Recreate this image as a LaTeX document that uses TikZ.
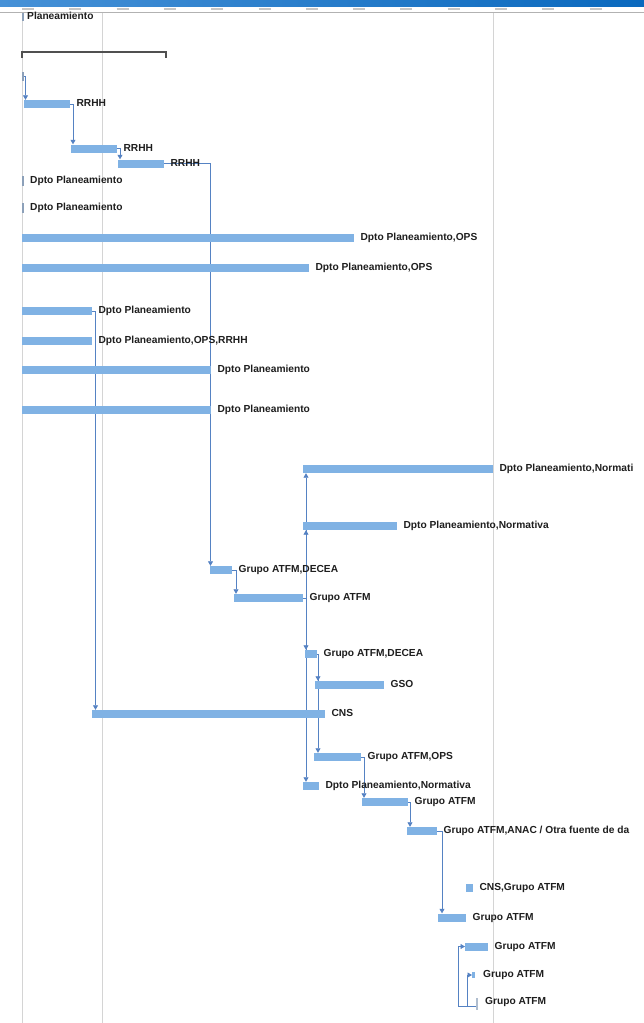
\documentclass[tikz,border=0pt]{standalone}
\usepackage{fontspec}
\setmainfont{Liberation Sans}
\usetikzlibrary{arrows.meta}
\pgfdeclarelayer{background}
\pgfsetlayers{background,main}
\definecolor{barc}{RGB}{128,178,228}
\definecolor{linkc}{RGB}{85,130,195}
\definecolor{gridc}{RGB}{212,212,212}
\definecolor{txtc}{RGB}{30,30,30}
\definecolor{markc}{RGB}{140,160,185}
\definecolor{sumc}{RGB}{80,80,80}
\definecolor{hdrA}{RGB}{70,145,215}
\definecolor{hdrB}{RGB}{10,105,190}
\tikzset{
  bar/.style={fill=barc, draw=none, inner sep=0pt, minimum height=8pt, anchor=west},
  mk/.style={fill=markc, draw=none, inner sep=0pt, minimum width=2pt, minimum height=10pt},
  lbl/.style={anchor=west, inner sep=0pt, text=txtc, font=\bfseries\fontsize{10.2}{12}\selectfont, text height=7.3pt, text depth=0pt},
  conn/.style={draw=linkc, line width=0.7pt, -{Triangle[length=4.5pt,width=5pt]}},
  gridln/.style={draw=gridc, line width=0.8pt},
  ticksm/.style={draw=gray!45, line width=2pt},
}
\newcommand\gtask[5]{%
  \node[bar, minimum width={#3-#2}] (#1) at (#2,#4) {};
  \node[lbl] (#1-l) at ([xshift=6pt,yshift=1pt]#1.east) {#5};}
\begin{document}
\begin{tikzpicture}[x=1pt,y=-1pt]
\useasboundingbox (0,0) rectangle (644,1023);
\begin{pgfonlayer}{background}
\fill[white] (0,0) rectangle (644,1023);
\draw[gridln] (22,12) -- (22,1023);
\draw[gridln] (102,12) -- (102,1023);
\draw[gridln] (493,12) -- (493,1023);
\end{pgfonlayer}
% header
\shade[left color=hdrA, right color=hdrB] (0,0) rectangle (644,6);
\draw[gray!60, line width=0.6pt] (0,12) -- (644,12);
\foreach \i in {0,...,12} {
  \draw[ticksm] (22+47.3*\i,8.5) -- (34+47.3*\i,8.5);
}
% summary
\node[mk, minimum height=8pt] (t0) at (22.5,17) {};
\node[lbl] (t0-l) at (27,16) {Planeamiento};
\draw[sumc, line width=1.6pt] (22,58) -- (22,52) -- (166,52) -- (166,58);
% tasks
\node[mk, minimum height=9pt] (m0) at (23,76) {};
\gtask{r1}{24}{70}{104}{RRHH}
\gtask{r2}{71}{117}{148.5}{RRHH}
\gtask{r3}{118}{164}{163.5}{RRHH}
\node[mk] (d1) at (22.5,181) {};
\node[lbl] (d1-l) at (30,180) {Dpto Planeamiento};
\node[mk] (d2) at (22.5,208) {};
\node[lbl] (d2-l) at (30,207) {Dpto Planeamiento};
\gtask{o1}{22}{354}{238}{Dpto Planeamiento,OPS}
\gtask{o2}{22}{309}{268}{Dpto Planeamiento,OPS}
\gtask{p1}{22}{92}{311}{Dpto Planeamiento}
\gtask{p2}{22}{92}{341}{Dpto Planeamiento,OPS,RRHH}
\gtask{p3}{22}{211}{370}{Dpto Planeamiento}
\gtask{p4}{22}{211}{410}{Dpto Planeamiento}
\gtask{n1}{303}{493}{469}{Dpto Planeamiento,Normati}
\gtask{n2}{303}{397}{526}{Dpto Planeamiento,Normativa}
\gtask{g1}{210}{232}{570}{Grupo ATFM,DECEA}
\gtask{g2}{234}{303}{598}{Grupo ATFM}
\gtask{g3}{305}{317}{654}{Grupo ATFM,DECEA}
\gtask{gso}{315}{384}{685}{GSO}
\gtask{cns}{92}{325}{714}{CNS}
\gtask{ops}{314}{361}{757}{Grupo ATFM,OPS}
\gtask{n3}{303}{319}{786}{Dpto Planeamiento,Normativa}
\gtask{g4}{362}{408}{802}{Grupo ATFM}
\gtask{anac}{407}{437}{831}{Grupo ATFM,ANAC / Otra fuente de da}
\gtask{cg}{466}{473}{888}{CNS,Grupo ATFM}
\gtask{g5}{438}{466}{917.5}{Grupo ATFM}
\gtask{g6}{465}{488}{946.5}{Grupo ATFM}
\node[bar, minimum width=3pt, minimum height=6pt] (g7) at (472,975) {};
\node[lbl] (g7-l) at (483,974) {Grupo ATFM};
\node[mk, fill=markc!70, minimum width=1.5pt, minimum height=12pt] (g8) at (477,1004) {};
\node[lbl] (g8-l) at (485,1001) {Grupo ATFM};
\coordinate (k1) at (458,946.5);
\coordinate (k2) at (467,975);
% links
\begin{pgfonlayer}{background}
\draw[conn] (m0.east) -| ([xshift=1.5pt]r1.north west);
\draw[conn] (r1.east) -| ([xshift=2pt]r2.north west);
\draw[conn] (r2.east) -| ([xshift=2pt]r3.north west);
\draw[conn] (r3.east) -| ([xshift=0.5pt]g1.north west);
\draw[conn] (p1.east) -| ([xshift=3.5pt]cns.north west);
\draw[conn] (g1.east) -| ([xshift=2pt]g2.north west);
\draw[conn] (g2.east) -| ([xshift=3pt]n1.south west);
\draw[conn] (g2.east) -| ([xshift=3pt]n2.south west);
\draw[conn] (g2.east) -| ([xshift=1pt]g3.north west);
\draw[conn] (g2.east) -| ([xshift=3pt]n3.north west);
\draw[conn] (g3.east) -| ([xshift=3pt]gso.north west);
\draw[conn] (g3.east) -| ([xshift=4pt]ops.north west);
\draw[conn] (ops.east) -| ([xshift=2pt]g4.north west);
\draw[conn] (g4.east) -| ([xshift=3pt]anac.north west);
\draw[conn] (anac.east) -| ([xshift=4pt]g5.north west);
\draw[conn] ([yshift=-2pt]g8.west) -| (k1) -- (g6.west);
\draw[conn] ([yshift=-2pt]g8.west) -| (k2) -- (g7.west);
\end{pgfonlayer}
\end{tikzpicture}
\end{document}
